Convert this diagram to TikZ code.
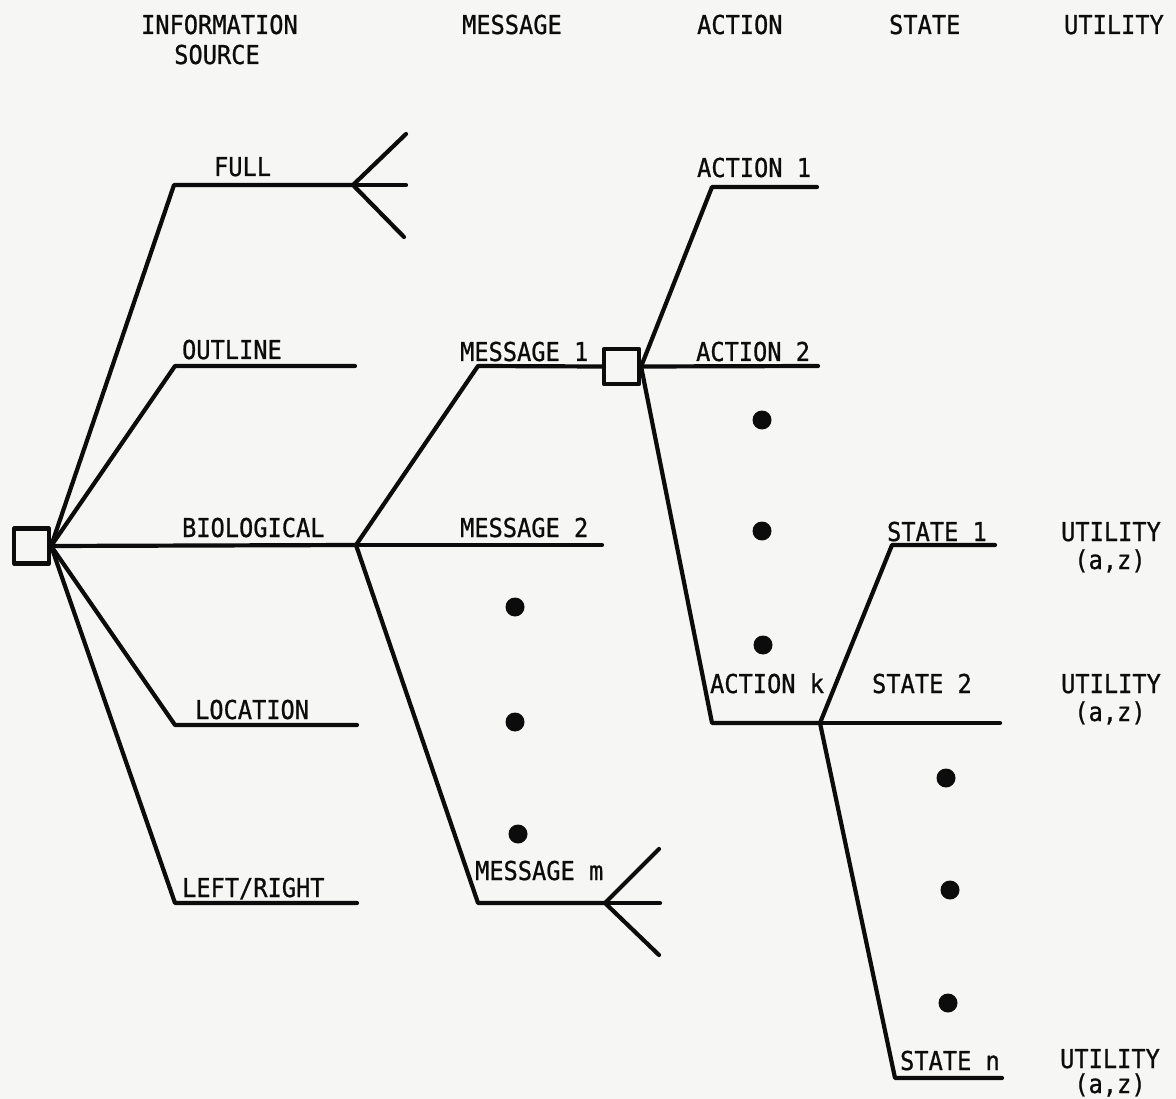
\documentclass[tikz,border=0pt]{standalone}
\usepackage{fontspec}
\newfontfamily\labfont[FakeStretch=0.91,FakeBold=0.8]{DejaVu Sans Mono}
\definecolor{paper}{RGB}{246,246,244}
\definecolor{ink}{RGB}{12,12,12}
\begin{document}
\begin{tikzpicture}[x=1pt,y=-1pt,
  line width=4.2pt, line cap=round, line join=round, draw=ink,
  lbl/.style={font=\labfont\fontsize{26}{28}\selectfont, text=ink, inner sep=0pt, anchor=base west},
  clbl/.style={lbl, anchor=base},
  decbox/.style={draw=ink, fill=paper, minimum size=35pt, inner sep=0pt, line width=4.2pt},
  dotn/.style={circle, fill=ink, inner sep=0pt, minimum size=19pt}]
\fill[paper] (0,0) rectangle (1176,1099);
\useasboundingbox (0,0) rectangle (1176,1099);

% headers
\node[lbl] (hInfo) at (139,34) {INFORMATION};
\node[clbl] (hSrc) at (217,64) {SOURCE};
\node[lbl] (hMsg) at (460,34) {MESSAGE};
\node[lbl] (hAct) at (695,34) {ACTION};
\node[lbl] (hState) at (887,34) {STATE};
\node[lbl] (hUtil) at (1062,34) {UTILITY};

% decision nodes
\node[decbox] (root) at (31.5,546) {};
\node[decbox] (dbox) at (621.5,366.5) {};

% information source branches
\coordinate (cFull) at (174,185);
\coordinate (eFull) at (353,185);
\coordinate (fFa) at (406,134);
\coordinate (fFb) at (406,185);
\coordinate (fFc) at (404,237);
\coordinate (cOut) at (175,366);
\coordinate (eOut) at (355,366);
\coordinate (msgN) at (356,545);
\coordinate (cLoc) at (175,725);
\coordinate (eLoc) at (357,725);
\coordinate (cLR) at (175,903);
\coordinate (eLR) at (357,903);

\draw (root.east) -- (cFull) -- (eFull);
\draw (eFull) -- (fFa);
\draw (eFull) -- (fFb);
\draw (eFull) -- (fFc);
\draw (root.east) -- (cOut) -- (eOut);
\draw (root.east) -- (msgN);
\draw (root.east) -- (cLoc) -- (eLoc);
\draw (root.east) -- (cLR) -- (eLR);

\node[lbl] (lFull) at (212,176) {FULL};
\node[lbl] (lOut) at (180,359) {OUTLINE};
\node[lbl] (lBio) at (180,537) {BIOLOGICAL};
\node[lbl] (lLoc) at (193,719) {LOCATION};
\node[lbl] (lLR) at (180,897) {LEFT/RIGHT};

% message branches
\coordinate (cM1) at (478,366);
\coordinate (eM2) at (602,545);
\coordinate (cMm) at (478,903);
\coordinate (fMm) at (605,903);
\coordinate (fMa) at (659,849);
\coordinate (fMb) at (660,903);
\coordinate (fMc) at (659,955);

\draw (msgN) -- (cM1) -- (dbox.west);
\draw (msgN) -- (eM2);
\draw (msgN) -- (cMm) -- (fMm);
\draw (fMm) -- (fMa);
\draw (fMm) -- (fMb);
\draw (fMm) -- (fMc);

\node[lbl] (lM1) at (458,361) {MESSAGE 1};
\node[lbl] (lM2) at (458,537) {MESSAGE 2};
\node[lbl] (lMm) at (473,880) {MESSAGE m};
\node[dotn] (dM1) at (515,607) {};
\node[dotn] (dM2) at (515,722) {};
\node[dotn] (dM3) at (518,834) {};

% action branches
\coordinate (cA1) at (712,187);
\coordinate (eA1) at (817,187);
\coordinate (eA2) at (818,366);
\coordinate (cAk) at (712,723);
\coordinate (stN) at (820,723);

\draw (dbox.east) -- (cA1) -- (eA1);
\draw (dbox.east) -- (eA2);
\draw (dbox.east) -- (cAk) -- (stN);

\node[lbl] (lA1) at (695,177) {ACTION 1};
\node[lbl] (lA2) at (694,361) {ACTION 2};
\node[lbl] (lAk) at (708,693) {ACTION k};
\node[dotn] (dA1) at (762,420) {};
\node[dotn] (dA2) at (762,531) {};
\node[dotn] (dA3) at (763,645) {};

% state branches
\coordinate (cS1) at (892,545);
\coordinate (eS1) at (995,545);
\coordinate (eS2) at (1000,723);
\coordinate (cSn) at (895,1078);
\coordinate (eSn) at (1002,1078);

\draw (stN) -- (cS1) -- (eS1);
\draw (stN) -- (eS2);
\draw (stN) -- (cSn) -- (eSn);

\node[lbl] (lS1) at (885,541) {STATE 1};
\node[lbl] (lS2) at (870,693) {STATE 2};
\node[lbl] (lSn) at (898,1070) {STATE n};
\node[dotn] (dS1) at (946,778) {};
\node[dotn] (dS2) at (950,890) {};
\node[dotn] (dS3) at (948,1003) {};

% utilities
\node[clbl] (u1) at (1111,541) {UTILITY};
\node[clbl] (u1b) at (1110,569) {(a,z)};
\node[clbl] (u2) at (1111,693) {UTILITY};
\node[clbl] (u2b) at (1110,721) {(a,z)};
\node[clbl] (un) at (1110,1068) {UTILITY};
\node[clbl] (unb) at (1110,1093) {(a,z)};
\end{tikzpicture}
\end{document}
